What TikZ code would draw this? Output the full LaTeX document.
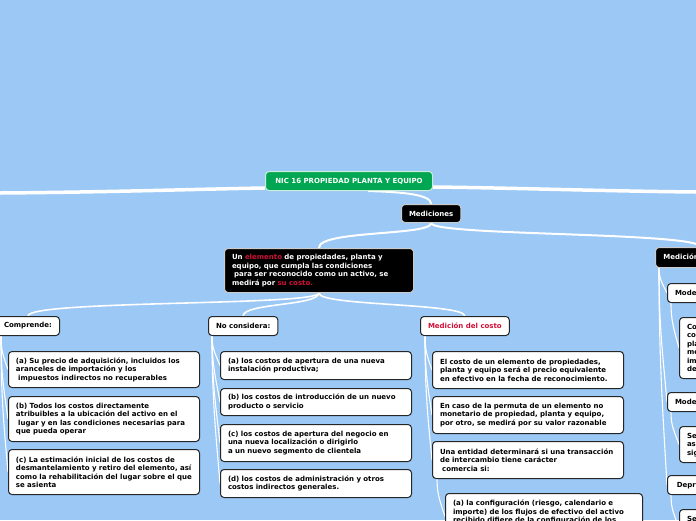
\documentclass[tikz,border=0pt]{standalone}
\usepackage{fontspec}
\setmainfont{DejaVu Sans}
\usetikzlibrary{backgrounds}
\definecolor{bg}{RGB}{155,200,245}
\definecolor{nicgreen}{RGB}{0,166,81}
\definecolor{nicred}{RGB}{208,16,56}
\newcommand{\ind}{\hspace*{2.2pt}}
\begin{document}
\begin{tikzpicture}[x=1pt,y=-1pt,
  every node/.style={font=\fontsize{7}{8.5}\selectfont\bfseries},
  base/.style={rounded corners=3.5pt, inner xsep=7.5pt, inner ysep=1pt, anchor=north west, align=left, line width=1pt},
  wbox/.style={base, fill=white, draw=black!85},
  bbox/.style={base, fill=black, draw=black!20, text=white},
  gbox/.style={base, fill=nicgreen, draw=white!80!nicgreen, text=white, align=center},
  lbl/.style={wbox, align=center, minimum height=19pt},
  main/.style={draw=white, line width=3.5pt},
  lvla/.style={draw=white, line width=2pt},
  lvlb/.style={draw=white, line width=1.6pt},
  lvlc/.style={draw=white, line width=1.1pt}
]
\useasboundingbox (0,0) rectangle (696,520);
% nodes
\node[gbox, minimum width=167pt, minimum height=19pt] (root) at (265,171) {NIC 16 PROPIEDAD PLANTA Y EQUIPO};
\node[bbox, align=center, minimum width=59pt, minimum height=18pt] (med) at (401,204) {Mediciones};
\node[bbox, minimum width=189pt, minimum height=44pt, text width=174pt] (ue) at (224,248)
  {Un \textcolor{nicred}{elemento} de propiedades, planta y\\equipo, que cumpla las condiciones\\\ind para ser reconocido como un activo, se\\medirá por \textcolor{nicred}{su costo.}};
\node[bbox, align=left, minimum width=90pt, minimum height=20pt] (mp) at (655,247) {Medición posterior};

\node[lbl, minimum width=63pt] (cmp) at (-4,316) {Comprende:};
\node[lbl, minimum width=69pt] (nc) at (208,316) {No considera:};
\node[lbl, minimum width=88pt, text=nicred] (mc) at (420,316) {Medición del costo};

\node[wbox, minimum width=191pt, minimum height=36pt, text width=176pt] (c1) at (8,351)
  {(a) Su precio de adquisición, incluidos los\\aranceles de importación y los\\\ind impuestos indirectos no recuperables};
\node[wbox, minimum width=191pt, minimum height=45pt, text width=176pt] (c2) at (8,396)
  {(b) Todos los costos directamente\\atribuibles a la ubicación del activo en el\\\ind lugar y en las condiciones necesarias para\\que pueda operar};
\node[wbox, minimum width=191pt, minimum height=45pt, text width=176pt] (c3) at (8,449)
  {(c) La estimación inicial de los costos de\\desmantelamiento y retiro del elemento, así\\como la rehabilitación del lugar sobre el que\\se asienta};

\node[wbox, minimum width=191pt, minimum height=28pt, text width=176pt] (n1) at (220,351)
  {(a) los costos de apertura de una nueva\\instalación productiva;};
\node[wbox, minimum width=191pt, minimum height=27pt, text width=176pt] (n2) at (220,388)
  {(b) los costos de introducción de un nuevo\\producto o servicio};
\node[wbox, minimum width=191pt, minimum height=37pt, text width=176pt] (n3) at (220,424)
  {(c) los costos de apertura del negocio en\\una nueva localización o dirigirlo\\a un nuevo segmento de clientela};
\node[wbox, minimum width=191pt, minimum height=28pt, text width=176pt] (n4) at (220,469)
  {(d) los costos de administración y otros\\costos indirectos generales.};

\node[wbox, minimum width=191pt, minimum height=37pt, text width=176pt] (m1) at (432,351)
  {El costo de un elemento de propiedades,\\planta y equipo será el precio equivalente\\en efectivo en la fecha de reconocimiento.};
\node[wbox, minimum width=191pt, minimum height=37pt, text width=176pt] (m2) at (432,396)
  {En caso de la permuta de un elemento no\\monetario de propiedad, planta y equipo,\\por otro, se medirá por su valor razonable};
\node[wbox, minimum width=191pt, minimum height=37pt, text width=176pt] (m3) at (432,441)
  {Una entidad determinará si una transacción\\de intercambio tiene carácter\\\ind comercia si:};
\node[wbox, minimum width=197pt, minimum height=46pt, text width=182pt] (m3a) at (445,493)
  {(a) la configuración (riesgo, calendario e\\importe) de los flujos de efectivo del activo\\recibido difiere de la configuración de los\\flujos de efectivo del activo entregado; o};

\node[lbl, align=left, minimum width=80pt] (r1) at (667,283) {Modelo del costo};
\node[wbox, minimum width=191pt, minimum height=61pt, text width=176pt] (r1c) at (679,317)
  {Con posterioridad a su reconocimiento\\como activo, un elemento de propiedades,\\planta y equipo se medirá por su costo\\menos la depreciación acumulada y el\\importe acumulado de las pérdidas por\\deterioro de valor.};
\node[lbl, align=left, minimum width=100pt] (r2) at (667,392) {Modelo de revaluación};
\node[wbox, minimum width=191pt, minimum height=36pt, text width=176pt] (r2c) at (679,426)
  {Se medirá por su valor revaluado,\\así como la depreciación acumulada\\siguiente y las pérdidas por deterioro};
\node[lbl, align=left, minimum width=70pt] (r3) at (667,475) {Depreciación};
\node[wbox, minimum width=191pt, minimum height=37pt, text width=176pt] (r3c) at (679,509)
  {Se depreciará de forma separada cada\\parte de un elemento de propiedades,\\planta y equipo};

\coordinate (mL) at (0,193);
\coordinate (mR) at (696,192);

\begin{pgfonlayer}{background}
\fill[bg] (0,0) rectangle (696,520);
\draw[main] (mL) .. controls (120,192) and (200,189) .. ([shift={(0,7)}]root.west);
\draw[main] ([shift={(0,6)}]root.east) .. controls (520,188) and (600,191) .. (mR);
\draw[lvla] ([shift={(19,0)}]root.south) .. controls (400,192) and (431,194) .. (med.north);
\draw[lvla] (med.south) .. controls (431,236) and (318,230) .. (ue.north);
\draw[lvla] (med.south) .. controls (431,236) and (700,232) .. (mp.north);
\draw[lvlb] (ue.south) .. controls (318,306) and (28,300) .. (cmp.north);
\draw[lvlb] (ue.south) .. controls (318,306) and (243,303) .. (nc.north);
\draw[lvlb] (ue.south) .. controls (318,306) and (464,303) .. (mc.north);
% Comprende children
\draw[lvlc] ([xshift=5pt]cmp.south west) .. controls +(0,14) and +(-5,-14) .. (c1.west);
\draw[lvlc] ([xshift=5pt]cmp.south west) .. controls +(0,35) and +(-5,-35) .. (c2.west);
\draw[lvlc] ([xshift=5pt]cmp.south west) .. controls +(0,55) and +(-5,-55) .. (c3.west);
% No considera children
\draw[lvlc] ([xshift=4pt]nc.south west) .. controls +(0,12) and +(-5,-12) .. (n1.west);
\draw[lvlc] ([xshift=4pt]nc.south west) .. controls +(0,27) and +(-5,-27) .. (n2.west);
\draw[lvlc] ([xshift=4pt]nc.south west) .. controls +(0,42) and +(-5,-42) .. (n3.west);
\draw[lvlc] ([xshift=4pt]nc.south west) .. controls +(0,58) and +(-5,-58) .. (n4.west);
% Medicion del costo children
\draw[lvlc] ([xshift=5pt]mc.south west) .. controls +(0,14) and +(-5,-14) .. (m1.west);
\draw[lvlc] ([xshift=5pt]mc.south west) .. controls +(0,32) and +(-5,-32) .. (m2.west);
\draw[lvlc] ([xshift=5pt]mc.south west) .. controls +(0,50) and +(-5,-50) .. (m3.west);
\draw[lvlc] ([xshift=5pt]m3.south west) .. controls +(0,15) and +(-5,-15) .. (m3a.west);
% right column
\draw[lvlc] ([xshift=4pt]mp.south west) .. controls +(0,10) and +(-5,-10) .. (r1.west);
\draw[lvlc] ([xshift=4pt]mp.south west) .. controls +(0,55) and +(-5,-55) .. (r2.west);
\draw[lvlc] ([xshift=4pt]mp.south west) .. controls +(0,85) and +(-5,-85) .. (r3.west);
\draw[lvlc] ([xshift=4pt]r1.south west) .. controls +(0,18) and +(-5,-18) .. (r1c.west);
\draw[lvlc] ([xshift=4pt]r2.south west) .. controls +(0,14) and +(-5,-14) .. (r2c.west);
\draw[lvlc] ([xshift=4pt]r3.south west) .. controls +(0,14) and +(-5,-14) .. (r3c.west);
\end{pgfonlayer}
\end{tikzpicture}
\end{document}
